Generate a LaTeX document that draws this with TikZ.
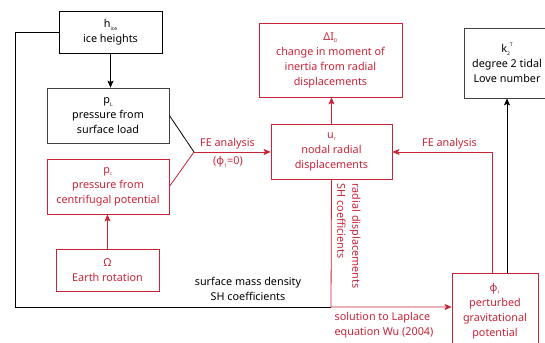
\documentclass[tikz,border=0pt]{standalone}
\usepackage{fontspec}
\setmainfont{Noto Sans}
\usetikzlibrary{arrows.meta}
\definecolor{fered}{RGB}{200,35,55}
\newcommand\lowidx[1]{\raisebox{-2.8pt}{\fontsize{5}{5}\selectfont #1}}
\newcommand\highidx[1]{\raisebox{6pt}{\fontsize{5}{5}\selectfont #1}}
\tikzset{
  every node/.style={font=\fontsize{10.8}{15}\selectfont, inner sep=0pt},
  box/.style={draw, line width=0.8pt, align=center},
  blkbox/.style={box, draw=black},
  grybox/.style={box, draw=black!75},
  redbox/.style={box, draw=fered, text=fered},
  link/.style={line width=0.8pt},
  redlink/.style={link, draw=fered},
  tip/.style={-{Stealth[length=7pt,width=6pt,inset=1.5pt]}},
  lbl/.style={align=center},
  redlbl/.style={align=center, text=fered},
}
\begin{document}
\begin{tikzpicture}[x=1pt,y=-1pt]
\useasboundingbox (0,0) rectangle (545,342);
\clip (0,0) rectangle (545,342);

% boxes
\node[blkbox, minimum width=103pt, minimum height=42pt] (hice) at (110.5,32)
  {h\lowidx{ice}\\ice heights};
\node[grybox, minimum width=122pt, minimum height=55pt] (pL) at (108,115.5)
  {p\lowidx{L}\\pressure from\\surface load};
\node[redbox, minimum width=122pt, minimum height=55pt] (pc) at (108,186.5)
  {p\lowidx{c}\\pressure from\\centrifugal potential};
\node[redbox, minimum width=103pt, minimum height=42pt] (om) at (107.5,270)
  {Ω\\Earth rotation};
\node[redbox, minimum width=143pt, minimum height=74pt] (dI) at (330.5,60)
  {ΔI\lowidx{D}\\change in moment of\\inertia from radial\\displacements};
\node[redbox, minimum width=121pt, minimum height=55pt] (ur) at (331.5,151.5)
  {u\lowidx{r}\\nodal radial\\displacements};
\node[grybox, minimum width=86pt, minimum height=70pt] (k2) at (507,63)
  {k\lowidx{2}\highidx{T}\\degree 2 tidal\\Love number};
\node[redbox, minimum width=86pt, minimum height=76pt] (phi) at (495,311)
  {φ\lowidx{1}\\perturbed\\gravitational\\potential};

% junction points
\coordinate (junc) at (331,307);
\coordinate (feL) at (194,152);
\coordinate (feR) at (492,152);

% connectors
\draw[link, tip] (hice.south) -- (hice.south |- pL.north);
\draw[redlink, tip] (om.north) -- (om.north |- pc.south);
\draw[redlink, tip] (ur.north) -- (ur.north |- dI.south);
\draw[link] (pL.east) -- (feL);
\draw[redlink] (pc.east) -- (feL);
\draw[redlink, tip] (feL) -- (feL -| ur.west);
\draw[redlink, tip] (feR |- phi.north) -- (feR) -- (feR -| ur.east);
\draw[link, tip] (k2.south |- phi.north) -- (k2.south);
\draw[link] (hice.west) -- (15.7,32) |- (junc);
\draw[redlink, tip] (ur.south) -- (junc) -- (junc -| phi.west);

% labels
\node[redlbl] (feLa) at (227.5,144) {FE analysis};
\node[redlbl] (feLb) at (228,162) {(φ\lowidx{1}=0)};
\node[redlbl] (feRa) at (449.5,144) {FE analysis};
\node[lbl] (smd) at (248,289) {surface mass density\\SH coefficients};
\node[redlbl, align=left, rotate=-90] (rds) at (349,236) {radial displacements\\SH coefficients};
\node[redlbl, align=left] (lap) at (384,325) {solution to Laplace\\equation Wu (2004)};
\end{tikzpicture}
\end{document}
